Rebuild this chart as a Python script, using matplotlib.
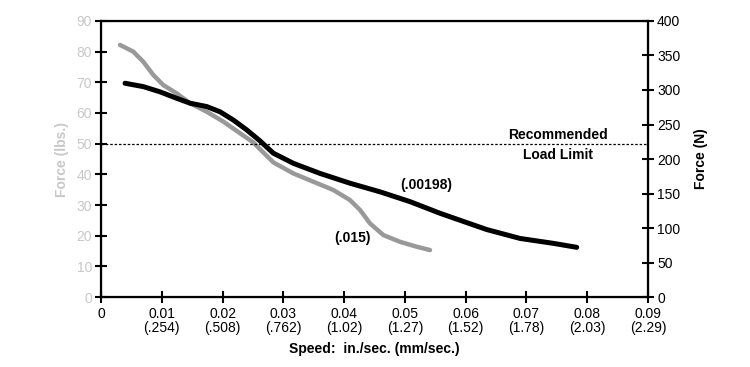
import matplotlib.pyplot as plt

plt.rcParams['font.family'] = ['Liberation Sans', 'DejaVu Sans']

# speed in in./sec, force in lbs.
speed_015 = [0.00313, 0.00531, 0.00696, 0.00860, 0.01025, 0.01245, 0.01464, 0.01739,
             0.02012, 0.02287, 0.02506, 0.02616, 0.02835, 0.03164, 0.03493, 0.03822,
             0.04097, 0.04261, 0.04426, 0.04645, 0.04919, 0.05194, 0.05413]
force_015 = [82.2, 80.0, 76.7, 72.4, 69.1, 66.4, 63.2, 60.4,
             57.2, 53.4, 50.4, 48.2, 43.9, 40.3, 37.6, 34.9,
             31.6, 28.4, 24.0, 20.2, 18.0, 16.4, 15.3]

speed_00198 = [0.00395, 0.00696, 0.0097, 0.01245, 0.01464, 0.01739, 0.01958, 0.02177,
               0.02397, 0.02616, 0.02835, 0.03164, 0.03603, 0.04097, 0.0459, 0.05084,
               0.05578, 0.06346, 0.06894, 0.07442, 0.07827]
force_00198 = [69.7, 68.6, 66.9, 64.8, 63.2, 62.1, 60.4, 57.7,
               54.5, 50.9, 46.9, 43.6, 40.3, 37.1, 34.3, 31.1,
               27.3, 22.0, 19.1, 17.5, 16.2]

xticks = [0, 0.01, 0.02, 0.03, 0.04, 0.05, 0.06, 0.07, 0.08, 0.09]
xlabels = ['0', '0.01\n(.254)', '0.02\n(.508)', '0.03\n(.762)', '0.04\n(1.02)',
           '0.05\n(1.27)', '0.06\n(1.52)', '0.07\n(1.78)', '0.08\n(2.03)', '0.09\n(2.29)']
load_limit = 50

fig = plt.figure(figsize=(7.5, 3.67), dpi=100)
ax1 = fig.add_axes([0.1347, 0.1907, 0.7293, 0.7521])

ax1.plot(speed_015, force_015, color='#999999', linewidth=3.2, solid_capstyle='round',
         solid_joinstyle='round')
ax1.plot(speed_00198, force_00198, color='black', linewidth=3.6, solid_capstyle='round',
         solid_joinstyle='round')
ax1.axhline(load_limit, color='black', linestyle=(0, (2, 1.5)), linewidth=0.9)

ax1.set_xlim(0, 0.09)
ax1.set_ylim(0, 90)
ax1.set_xticks(xticks)
ax1.set_xticklabels(xlabels, fontsize=10, linespacing=0.95)
ax1.set_yticks(range(0, 91, 10))
ax1.tick_params(axis='y', direction='inout', length=9, width=1.5, labelsize=10,
                labelcolor='#c8c8c8', pad=2)
ax1.tick_params(axis='x', direction='inout', length=9, width=1.5, pad=3)
for s in ax1.spines.values():
    s.set_linewidth(1.6)

ax1.set_ylabel('Force (lbs.)', color='#c8c8c8', fontsize=10, fontweight='bold', labelpad=5)
ax1.set_xlabel('Speed:  in./sec. (mm/sec.)', fontsize=10, fontweight='bold', labelpad=5)

ax2 = ax1.twinx()
ax2.set_ylim(0, 400)
ax2.set_yticks(range(0, 401, 50))
ax2.tick_params(axis='y', direction='inout', length=9, width=1.5, labelsize=10, pad=2)
ax2.set_ylabel('Force (N)', fontsize=10, fontweight='bold', labelpad=10)

ax1.text(0.0752, 52.8, 'Recommended', ha='center', va='center', fontsize=10, fontweight='bold')
ax1.text(0.0752, 46.3, 'Load Limit', ha='center', va='center', fontsize=10, fontweight='bold')
ax1.text(0.0535, 36.5, '(.00198)', ha='center', va='center', fontsize=10, fontweight='bold')
ax1.text(0.0413, 19.2, '(.015)', ha='center', va='center', fontsize=10, fontweight='bold')

fig.savefig('out.png', dpi=100)
